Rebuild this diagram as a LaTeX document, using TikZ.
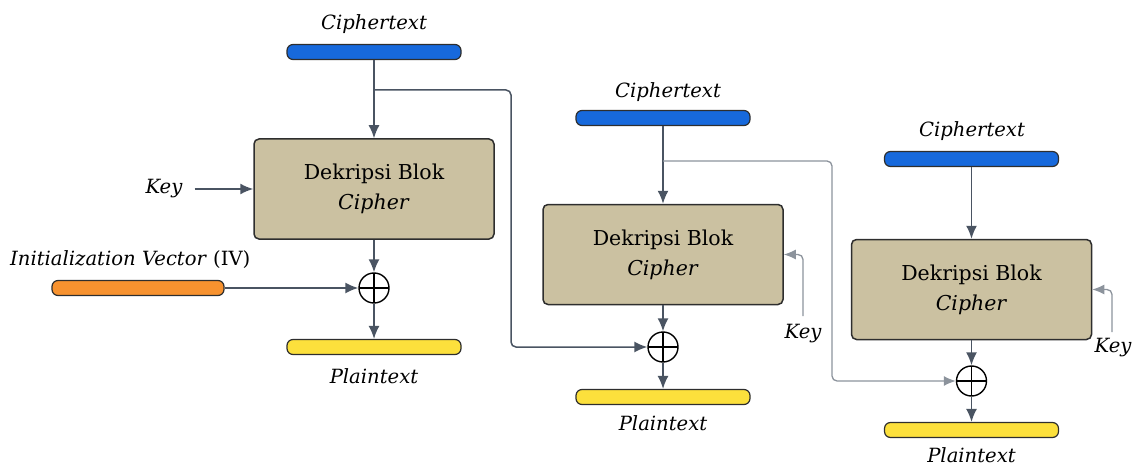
\documentclass[tikz,border=0pt]{standalone}
\usepackage{fontspec}
\setmainfont{DejaVu Serif}
\usetikzlibrary{arrows.meta}
\definecolor{cipherblue}{HTML}{1769DC}
\definecolor{ivorange}{HTML}{F7922F}
\definecolor{plainyellow}{HTML}{FCE03C}
\definecolor{blockfill}{HTML}{CBC1A1}
\definecolor{edgedark}{HTML}{2E2E2E}
\definecolor{wire}{HTML}{4A5462}
\definecolor{wirelight}{HTML}{8C939C}
\tikzset{
  bar/.style={draw=edgedark, line width=1.2pt, rounded corners=6pt,
    minimum width=174pt, minimum height=15pt, inner sep=0pt},
  blockbox/.style={draw=edgedark, line width=1.5pt, fill=blockfill, rounded corners=5pt,
    minimum width=240pt, minimum height=100pt, align=center, font=\fontsize{20.5}{30}\selectfont},
  lbl/.style={font=\fontsize{19.6}{22}\selectfont\itshape, inner sep=0pt},
  xorop/.style={draw=black, line width=1.4pt, circle, minimum size=30pt, inner sep=0pt,
    path picture={\draw[line width=1.2pt] (path picture bounding box.north) -- (path picture bounding box.south)
      (path picture bounding box.west) -- (path picture bounding box.east);}},
  arr/.style={draw=wire, line width=1.6pt, -{Latex[length=13pt,width=11pt]}},
  feed/.style={draw=wire, line width=1.5pt, rounded corners=5pt, -{Latex[length=13pt,width=11pt]}},
  feedlight/.style={draw=wirelight, line width=1.3pt, rounded corners=5pt, -{Latex[length=12pt,width=10pt]}},
}
\begin{document}
\begin{tikzpicture}[x=1pt,y=-1pt]
\useasboundingbox (0,0) rectangle (1134,465);

% ---- first block ----
\node[lbl] (c1l) at (374,24) {Ciphertext};
\node[bar, fill=cipherblue] (ct1) at (374,52) {};
\node[blockbox] (blk1) at (374,189) {Dekripsi Blok\\\textit{Cipher}};
\node[lbl] (key1) at (164,189) {Key};
\node[lbl, anchor=west] (ivl) at (10,260) {Initialization Vector \textup{(IV)}};
\node[bar, fill=ivorange, minimum width=172pt] (iv) at (138,288) {};
\node[xorop] (x1) at (374,288) {};
\node[bar, fill=plainyellow] (pt1) at (374,347) {};
\node[lbl] (p1l) at (374,376) {Plaintext};

% ---- second block ----
\node[lbl] (c2l) at (668,92) {Ciphertext};
\node[bar, fill=cipherblue] (ct2) at (663,118) {};
\node[blockbox] (blk2) at (663,254.5) {Dekripsi Blok\\\textit{Cipher}};
\node[lbl] (key2) at (803,334) {Key};
\node[xorop] (x2) at (663,347) {};
\node[bar, fill=plainyellow] (pt2) at (663,397) {};
\node[lbl] (p2l) at (663,423) {Plaintext};

% ---- third block ----
\node[lbl] (c3l) at (972,131) {Ciphertext};
\node[bar, fill=cipherblue] (ct3) at (971.5,159) {};
\node[blockbox] (blk3) at (971.5,289.5) {Dekripsi Blok\\\textit{Cipher}};
\node[lbl] (key3) at (1113,348) {Key};
\node[xorop] (x3) at (971.5,381) {};
\node[bar, fill=plainyellow] (pt3) at (971.5,430) {};
\node[lbl] (p3l) at (971.5,455) {Plaintext};

% ---- wiring points ----
\coordinate (t1) at (374,90);
\coordinate (t1a) at (511,90);
\coordinate (t1b) at (511,347);
\coordinate (t2) at (663,161);
\coordinate (t2a) at (832,161);
\coordinate (t2b) at (832,381);
\coordinate (k2s) at (803,316);
\coordinate (k2a) at (803,254.5);
\coordinate (k3s) at (1112,332);
\coordinate (k3a) at (1112,289.5);

% ---- connectors ----
\draw[arr] (ct1.south) -- (blk1.north);
\draw[arr] (key1.east) ++(12,0) -- (blk1.west);
\draw[arr] (blk1.south) -- (x1.north);
\draw[arr] (iv.east) -- (x1.west);
\draw[arr] (x1.south) -- (pt1.north);
\draw[feed] (t1) -- (t1a) -- (t1b) -- (x2.west);

\draw[arr] (ct2.south) -- (blk2.north);
\draw[arr] (blk2.south) -- (x2.north);
\draw[arr] (x2.south) -- (pt2.north);
\draw[feedlight] (k2s) -- (k2a) -- (blk2.east);
\draw[feedlight] (t2) -- (t2a) -- (t2b) -- (x3.west);

\draw[arr] (ct3.south) -- (blk3.north);
\draw[arr] (blk3.south) -- (x3.north);
\draw[arr] (x3.south) -- (pt3.north);
\draw[feedlight] (k3s) -- (k3a) -- (blk3.east);
\end{tikzpicture}
\end{document}
